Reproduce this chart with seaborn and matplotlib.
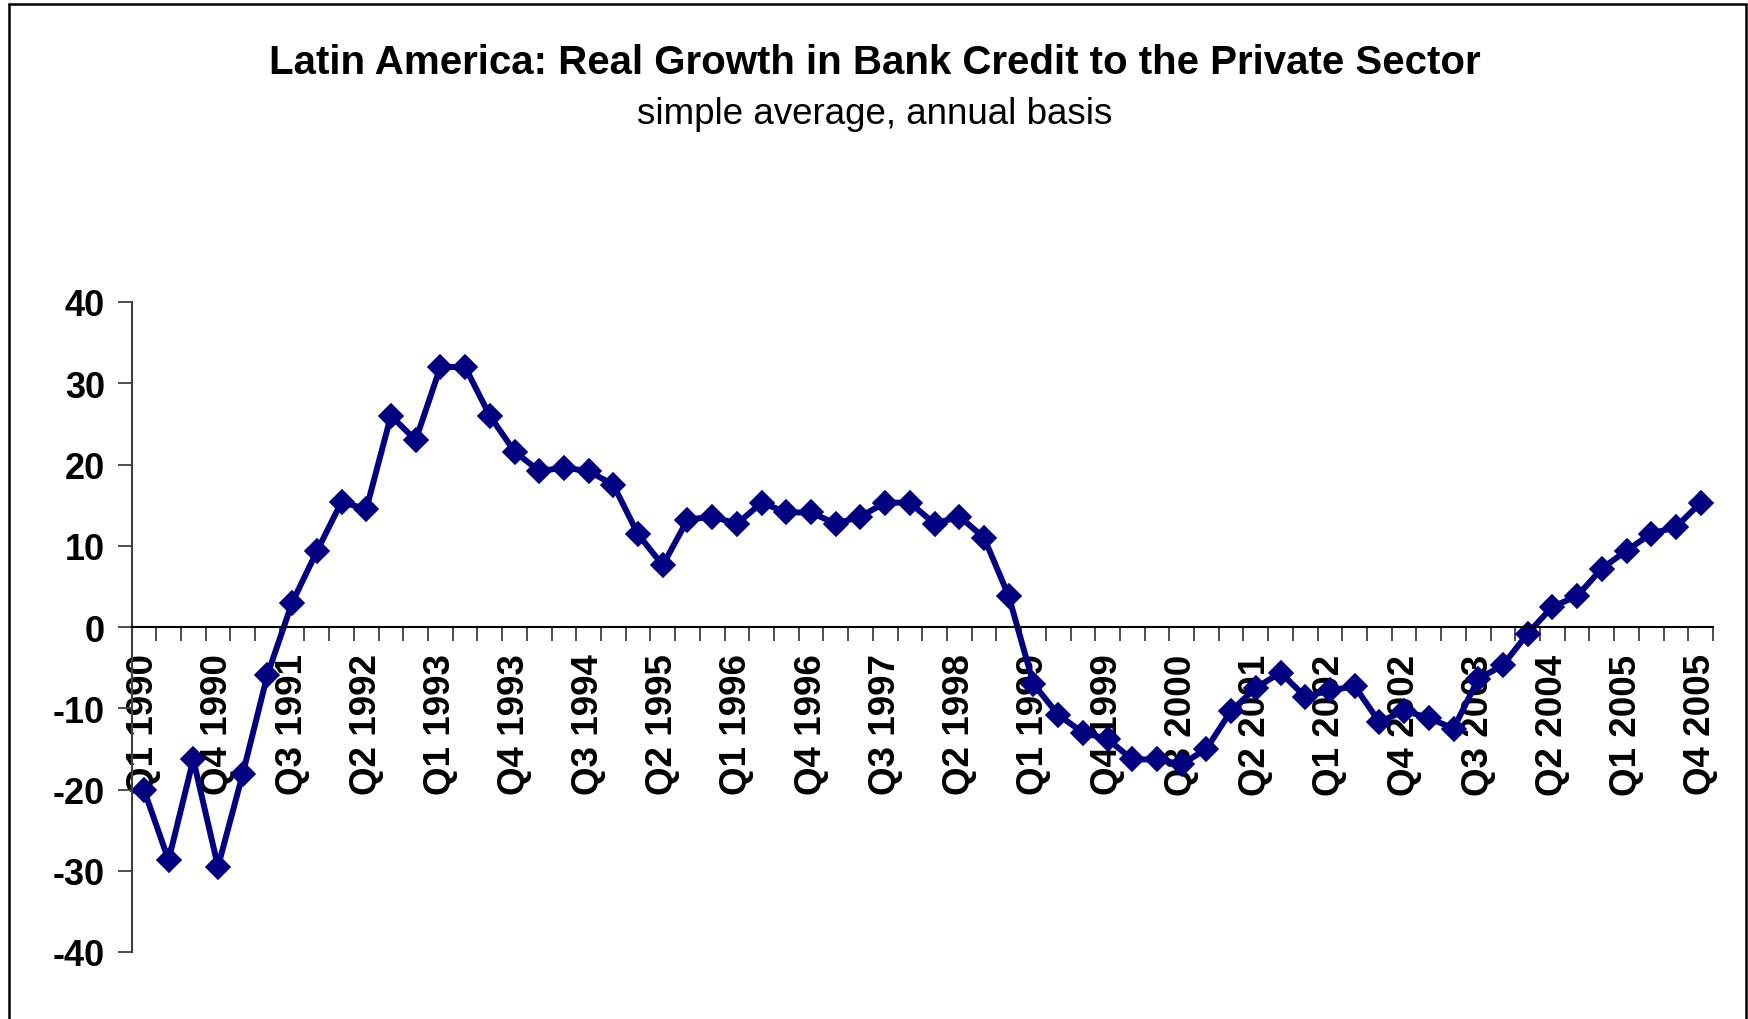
import matplotlib
matplotlib.use("Agg")
import matplotlib.pyplot as plt
from matplotlib.lines import Line2D
from matplotlib.ticker import FixedLocator, NullFormatter
import numpy as np
import pandas as pd
import seaborn as sns

# Quarterly periods, Q1 1990 .. Q4 2005
years = list(range(1990, 2006))
quarters = [f"Q{q} {y}" for y in years for q in (1, 2, 3, 4)]

# Real growth in bank credit to the private sector (%, annual basis)
growth = [-20.0, -28.7, -16.3, -29.5, -18.1, -5.9, 3.0, 9.3,
          15.4, 14.5, 26.0, 23.0, 32.0, 32.0, 26.0, 21.6,
          19.2, 19.6, 19.2, 17.5, 11.4, 7.6, 13.2, 13.6,
          12.7, 15.3, 14.1, 14.1, 12.7, 13.6, 15.3, 15.3,
          12.7, 13.6, 11.0, 3.8, -7.0, -10.8, -13.0, -13.8,
          -16.3, -16.3, -16.9, -15.0, -10.3, -7.5, -5.6, -8.6,
          -7.8, -7.3, -11.7, -10.3, -11.2, -12.5, -6.4, -4.7,
          -0.8, 2.5, 3.8, 7.2, 9.4, 11.5, 12.3, 15.3]

y_ticks = [-40, -30, -20, -10, 0, 10, 20, 30, 40]
title = "Latin America: Real Growth in Bank Credit to the Private Sector"
subtitle = "simple average, annual basis"

df = pd.DataFrame({"quarter": quarters, "growth": growth})
df["pos"] = np.arange(len(df))

sns.set_style("white")
plt.rcParams["font.family"] = ["Liberation Sans", "DejaVu Sans"]
plt.rcParams["text.color"] = "black"
plt.rcParams["xtick.color"] = "black"
plt.rcParams["ytick.color"] = "black"

W, H = 1749, 1020
fig = plt.figure(figsize=(W / 100, H / 100), dpi=100)
ax = fig.add_axes([131.5 / W, 1 - 953 / H, (1713 - 131.5) / W, (953 - 303) / H])

sns.lineplot(data=df, x="pos", y="growth", ax=ax, color="#000080",
             linewidth=4.3, marker="D", markersize=12.5,
             markeredgecolor="#000080", markeredgewidth=1.2, clip_on=False)

ax.set_xlim(-0.5, len(df) - 0.5)
ax.set_ylim(-40, 40)
ax.set_xlabel("")
ax.set_ylabel("")

# y axis
ax.set_yticks(y_ticks)
ax.set_yticklabels([str(v) for v in y_ticks], fontsize=26, fontweight="bold",
                   color="black")
ax.tick_params(axis="y", direction="out", length=10, width=1.3,
               color="#404040", pad=9, left=True)

# x axis drawn along zero, tick marks at category boundaries
ax.spines["bottom"].set_position(("data", 0))
ax.spines["bottom"].set_color("black")
ax.spines["bottom"].set_linewidth(1.5)
ax.spines["left"].set_color("#404040")
ax.spines["left"].set_linewidth(1.5)
ax.spines["top"].set_visible(False)
ax.spines["right"].set_visible(False)

label_pos = df["pos"].values[::3]
ax.set_xticks(label_pos)
ax.set_xticklabels(df["quarter"].values[::3], rotation=90, fontsize=26.5,
                   fontweight="bold", va="top", ha="center", color="black")
ax.tick_params(axis="x", which="major", length=0, pad=19, bottom=True)
ax.xaxis.set_minor_locator(FixedLocator(np.arange(-0.5, len(df), 1.0)))
ax.xaxis.set_minor_formatter(NullFormatter())
ax.tick_params(axis="x", which="minor", direction="out", length=10,
               width=1.3, color="#404040", bottom=True)
ax.grid(False)

fig.text(0.5, 1 - 63 / H, title, ha="center", va="center",
         fontsize=29, fontweight="bold", color="black")
fig.text(0.5, 1 - 115 / H, subtitle, ha="center", va="center",
         fontsize=26.5, color="black")

# chart-area frame (left, top, right)
x0, x1, y1 = 9 / W, 1746 / W, 1 - 5 / H
for xs, ys in (([x0, x0], [0, y1]), ([x0, x1], [y1, y1]), ([x1, x1], [y1, 0])):
    fig.add_artist(Line2D(xs, ys, color="black", linewidth=1.8,
                          transform=fig.transFigure))

fig.savefig("out.png", dpi=100)
